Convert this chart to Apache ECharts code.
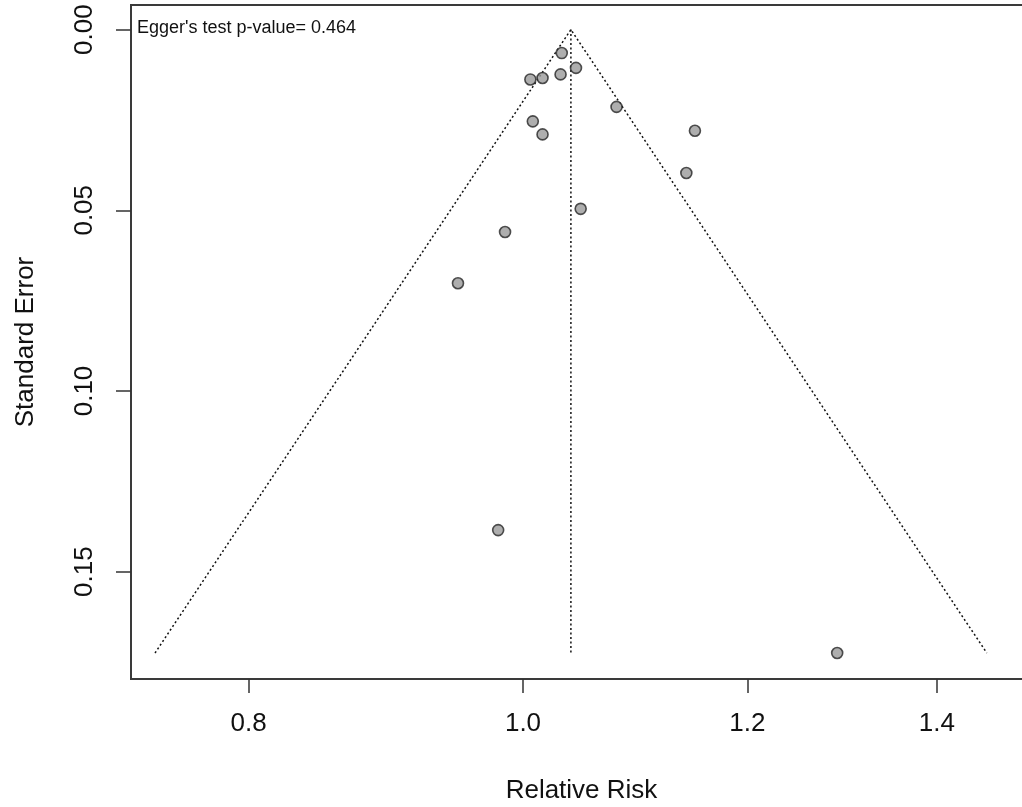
<!DOCTYPE html>
<html>
<head>
<meta charset="utf-8">
<script src="https://cdn.jsdelivr.net/npm/echarts@6/dist/echarts.min.js"></script>
<style>
  html, body { margin: 0; padding: 0; background: #fff; }
  #chart { width: 1022px; height: 807px; }
</style>
</head>
<body>
<div id="chart"></div>
<script>
// Study estimates: relative risk and its standard error (log scale)
const relativeRisk = [1.032, 1.006, 1.016, 1.031, 1.044, 1.079, 1.008, 1.016, 1.048, 0.9855, 0.9485, 1.150, 1.142, 0.980, 1.291];
const standardError = [0.0065, 0.0138, 0.0134, 0.0124, 0.0106, 0.0214, 0.0254, 0.0290, 0.0496, 0.0560, 0.0702, 0.0280, 0.0397, 0.1385, 0.1725];

// Pooled estimate and funnel depth
const pooledRR = 1.0397;
const maxSE = 0.1725;

// Axis ticks
const xTickLabels = [0.8, 1.0, 1.2, 1.4];
const yTickLabels = [0.00, 0.05, 0.10, 0.15];

const eggerText = "Egger's test p-value= 0.464";

const points = relativeRisk.map((rr, i) => [Math.log(rr), standardError[i]]);
const centre = Math.log(pooledRR);
const halfWidth = 1.96 * maxSE;
const funnelEdges = [
  [centre - halfWidth, maxSE],
  [centre, 0],
  [centre + halfWidth, maxSE]
];
const centreLine = [[centre, 0], [centre, maxSE]];

const font = "'Liberation Sans', Arial, sans-serif";
const dotted = { color: '#111', width: 1.5, type: [2, 2.5] };
const frame = { color: '#3a3a3a', width: 2 };

const chart = echarts.init(document.getElementById('chart'), null, { renderer: 'canvas' });
chart.setOption({
  animation: false,
  backgroundColor: '#ffffff',
  grid: {
    left: 131, right: -10, top: 5, bottom: 128,
    show: true, borderColor: '#3a3a3a', borderWidth: 2,
    outerBoundsMode: 'none'
  },
  xAxis: {
    type: 'value',
    min: -0.3187,
    max: 0.4138,
    name: 'Relative Risk',
    nameLocation: 'middle',
    nameGap: 99,
    nameTextStyle: { fontFamily: font, fontSize: 26, color: '#111' },
    axisLine: { show: true, onZero: false, lineStyle: frame },
    axisTick: {
      show: true, inside: false, length: 14,
      lineStyle: { color: '#333', width: 1.5 },
      customValues: xTickLabels.map(v => Math.log(v))
    },
    axisLabel: {
      show: true, margin: 32,
      fontFamily: font, fontSize: 26, color: '#111',
      customValues: xTickLabels.map(v => Math.log(v)),
      formatter: v => Math.exp(v).toFixed(1)
    },
    splitLine: { show: false }
  },
  yAxis: {
    type: 'value',
    inverse: true,
    min: -0.0068,
    max: 0.1797,
    name: 'Standard Error',
    nameLocation: 'middle',
    nameGap: 92,
    nameRotate: 90,
    nameTextStyle: { fontFamily: font, fontSize: 26, color: '#111' },
    axisLine: { show: true, onZero: false, lineStyle: frame },
    axisTick: {
      show: true, inside: false, length: 15,
      lineStyle: { color: '#333', width: 1.5 },
      customValues: yTickLabels
    },
    axisLabel: {
      show: true, margin: 33, rotate: 90,
      fontFamily: font, fontSize: 26, color: '#111',
      customValues: yTickLabels,
      formatter: v => v.toFixed(2)
    },
    splitLine: { show: false }
  },
  graphic: [{
    type: 'text',
    left: 137,
    top: 19,
    style: { text: eggerText, font: '18px ' + font, fill: '#111' }
  }],
  series: [
    {
      type: 'line',
      data: funnelEdges,
      symbol: 'none',
      lineStyle: dotted,
      silent: true,
      z: 1
    },
    {
      type: 'line',
      data: centreLine,
      symbol: 'none',
      lineStyle: dotted,
      silent: true,
      z: 1
    },
    {
      type: 'scatter',
      data: points,
      symbol: 'circle',
      symbolSize: 11,
      itemStyle: { color: '#9a9a9a', borderColor: '#262626', borderWidth: 1.6 },
      z: 3
    }
  ]
});
</script>
</body>
</html>
